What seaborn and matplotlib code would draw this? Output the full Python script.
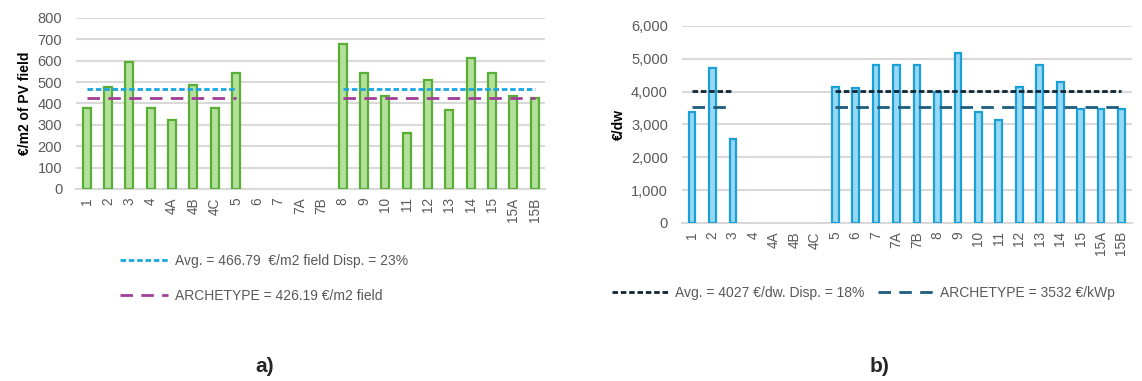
import numpy as np
import pandas as pd
import matplotlib
matplotlib.use("Agg")
import matplotlib.pyplot as plt
import seaborn as sns
from matplotlib.lines import Line2D
from matplotlib.ticker import FuncFormatter, MultipleLocator

nan = np.nan

cats = ['1', '2', '3', '4', '4A', '4B', '4C', '5', '6', '7', '7A', '7B',
        '8', '9', '10', '11', '12', '13', '14', '15', '15A', '15B']

# a) cost per m2 of PV field
cost_m2 = [379, 476, 592, 379, 324, 488, 379, 543, nan, nan, nan, nan,
           678, 543, 437, 263, 509, 367, 614, 543, 437, 427]
avg_m2 = 466.79
arch_m2 = 426.19

# b) cost per dwelling
cost_dw = [3380, 4720, 2550, nan, nan, nan, nan, 4130, 4100, 4820, 4820, 4820,
           4000, 5170, 3370, 3130, 4130, 4820, 4300, 3480, 3480, 3480]
avg_dw = 4027
arch_dw = 3532

sns.set_style("white")
plt.rcParams['font.family'] = ['Liberation Sans', 'DejaVu Sans']

fig = plt.figure(figsize=(11.42, 3.81), dpi=100)
ax1 = fig.add_axes([0.0666, 0.504, 0.411, 0.449])
ax2 = fig.add_axes([0.597, 0.415, 0.394, 0.517])

tick_col = '#595959'
grid_col = '#d9d9d9'


def draw(ax, vals, fill, edge, width, lines, ymax, step, ylabel, fmt):
    df = pd.DataFrame({'cat': cats, 'val': vals})
    sns.barplot(data=df, x='cat', y='val', order=cats, color=fill,
                edgecolor=edge, linewidth=1.6, width=width, saturation=1,
                ax=ax, zorder=3)
    x = np.arange(len(cats))
    has = ~np.isnan(np.array(vals, dtype=float))
    for level, col, dash in lines:
        y = np.where(has, level, nan)
        ax.plot(x, y, color=col, lw=2, dashes=dash, zorder=4)
    ax.set_xlim(-0.5, len(cats) - 0.5)
    ax.set_ylim(0, ymax)
    ax.yaxis.set_major_locator(MultipleLocator(step))
    ax.yaxis.set_major_formatter(FuncFormatter(fmt))
    ax.grid(axis='y', color=grid_col, lw=1.5, zorder=0)
    ax.set_axisbelow(True)
    for s in ['top', 'right', 'left']:
        ax.spines[s].set_visible(False)
    ax.spines['bottom'].set_color(grid_col)
    ax.spines['bottom'].set_linewidth(1.5)
    ax.tick_params(axis='x', rotation=90, labelsize=9.8, colors=tick_col, length=0, pad=6)
    ax.tick_params(axis='y', labelsize=10.5, colors=tick_col, length=0, pad=10)
    ax.set_xlabel('')
    ax.set_ylabel(ylabel, fontsize=10, fontweight='bold', color='black', labelpad=4)


a_lines = [(avg_m2, '#1aa7e0', (2, 1)), (arch_m2, '#a23d99', (4.5, 3))]
draw(ax1, cost_m2, '#b3e09a', '#5aad36', 0.38, a_lines, 800, 100,
     '€/m2 of PV field', lambda v, p: f'{v:.0f}')

b_lines = [(avg_dw, '#0f2638', (2, 1)), (arch_dw, '#1d5c7e', (4.5, 3))]
draw(ax2, cost_dw, '#97d8f2', '#1a9fd6', 0.33, b_lines, 6000, 1000,
     '€/dw', lambda v, p: f'{v:,.0f}')

# legends
h_a = [Line2D([], [], color=c, lw=2, dashes=d) for _, c, d in a_lines]
leg_a = fig.legend(h_a, ['Avg. = 466.79  €/m2 field Disp. = 23%',
                         'ARCHETYPE = 426.19 €/m2 field'],
                   loc='center left', bbox_to_anchor=(0.094, 0.27), ncol=1,
                   frameon=False, fontsize=10, handlelength=3.5,
                   labelspacing=1.5, handletextpad=0.5)
for t in leg_a.get_texts():
    t.set_color(tick_col)

h_b = [Line2D([], [], color=c, lw=2, dashes=d) for _, c, d in b_lines]
leg_b = fig.legend(h_b, ['Avg. = 4027 €/dw. Disp. = 18%',
                         'ARCHETYPE = 3532 €/kWp'],
                   loc='center left', bbox_to_anchor=(0.525, 0.232), ncol=2,
                   frameon=False, fontsize=10, handlelength=4.0,
                   columnspacing=1.0, handletextpad=0.5)
for t in leg_b.get_texts():
    t.set_color(tick_col)

fig.text(265 / 1142, 1 - 367 / 381, 'a)', fontsize=15, fontweight='bold',
         ha='center', va='center')
fig.text(880 / 1142, 1 - 367 / 381, 'b)', fontsize=15, fontweight='bold',
         ha='center', va='center')

fig.savefig('out.png', dpi=100, facecolor='white')
